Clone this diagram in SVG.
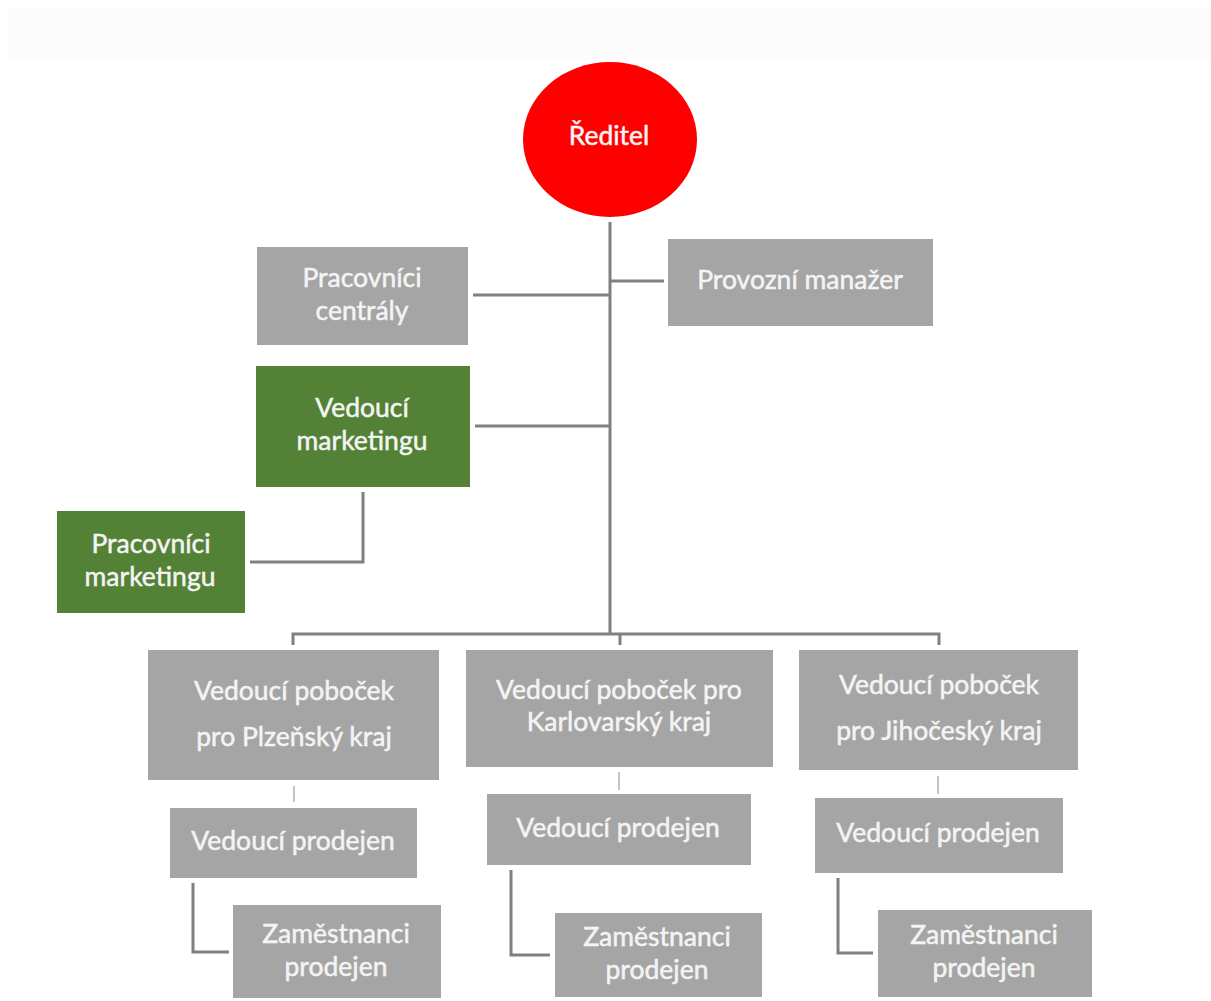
<svg xmlns="http://www.w3.org/2000/svg" width="1211" height="1001" viewBox="0 0 1211 1001">
  <style>
    .box { fill: #a5a5a5; }
    .green { fill: #538135; }
    .lbl { font-family: Lato, "Open Sans", "Liberation Sans", sans-serif; font-size: 26.5px; fill: #f4f4f4; stroke: #f4f4f4; stroke-width: 0.5; text-anchor: middle; }
    .wire { fill: none; stroke: #808080; stroke-width: 3; }
    .stub { fill: none; stroke: #c4c4c4; stroke-width: 2; }
  </style>
  <rect x="0" y="0" width="1211" height="1001" fill="#ffffff"/>
  <rect x="8" y="8" width="1203" height="52" fill="#fcfcfc"/>

  <g id="connectors">
    <path class="wire" d="M610 222 V635"/>
    <path class="wire" d="M610 281 H664"/>
    <path class="wire" d="M473 295 H610"/>
    <path class="wire" d="M475 426 H610"/>
    <path class="wire" d="M363 492 V562 H250"/>
    <path class="wire" d="M293 645 V634 H939 V645"/>
    <path class="wire" d="M620 634 V645"/>
    <path class="stub" d="M294 786 V802"/>
    <path class="stub" d="M619 772 V790"/>
    <path class="stub" d="M938 776 V794"/>
    <path class="wire" d="M193 883 V952 H229"/>
    <path class="wire" d="M511 870 V955 H550"/>
    <path class="wire" d="M838 878 V953 H873"/>
  </g>

  <g id="reditel">
    <ellipse cx="610" cy="139.5" rx="87" ry="77.5" fill="#fe0000"/>
    <text class="lbl" x="609" y="145">Ředitel</text>
  </g>

  <g id="provozni-manazer">
    <rect class="box" x="668" y="239" width="265" height="87"/>
    <text class="lbl" x="800" y="289">Provozní manažer</text>
  </g>

  <g id="pracovnici-centraly">
    <rect class="box" x="257" y="247" width="211" height="98"/>
    <text class="lbl" x="362" y="287">Pracovníci</text>
    <text class="lbl" x="362" y="320">centrály</text>
  </g>

  <g id="vedouci-marketingu">
    <rect class="green" x="256" y="366" width="214" height="121"/>
    <text class="lbl" x="362" y="417">Vedoucí</text>
    <text class="lbl" x="362" y="450">marketingu</text>
  </g>

  <g id="pracovnici-marketingu">
    <rect class="green" x="57" y="511" width="188" height="102"/>
    <text class="lbl" x="151" y="553">Pracovníci</text>
    <text class="lbl" x="150" y="586">marketingu</text>
  </g>

  <g id="vedouci-pobocek-plzen">
    <rect class="box" x="148" y="650" width="291" height="130"/>
    <text class="lbl" x="294" y="700">Vedoucí poboček</text>
    <text class="lbl" x="294" y="746">pro Plzeňský kraj</text>
  </g>

  <g id="vedouci-pobocek-karlovary">
    <rect class="box" x="466" y="650" width="307" height="117"/>
    <text class="lbl" x="619" y="699">Vedoucí poboček pro</text>
    <text class="lbl" x="619" y="731">Karlovarský kraj</text>
  </g>

  <g id="vedouci-pobocek-jihocesky">
    <rect class="box" x="799" y="650" width="279" height="120"/>
    <text class="lbl" x="939" y="694">Vedoucí poboček</text>
    <text class="lbl" x="939" y="740">pro Jihočeský kraj</text>
  </g>

  <g id="vedouci-prodejen-1">
    <rect class="box" x="170" y="808" width="247" height="70"/>
    <text class="lbl" x="293" y="850">Vedoucí prodejen</text>
  </g>

  <g id="vedouci-prodejen-2">
    <rect class="box" x="487" y="794" width="264" height="71"/>
    <text class="lbl" x="618" y="837">Vedoucí prodejen</text>
  </g>

  <g id="vedouci-prodejen-3">
    <rect class="box" x="815" y="798" width="248" height="75"/>
    <text class="lbl" x="938" y="842">Vedoucí prodejen</text>
  </g>

  <g id="zamestnanci-1">
    <rect class="box" x="233" y="905" width="208" height="93"/>
    <text class="lbl" x="336" y="943">Zaměstnanci</text>
    <text class="lbl" x="336" y="976">prodejen</text>
  </g>

  <g id="zamestnanci-2">
    <rect class="box" x="555" y="913" width="207" height="84"/>
    <text class="lbl" x="657" y="946">Zaměstnanci</text>
    <text class="lbl" x="657" y="979">prodejen</text>
  </g>

  <g id="zamestnanci-3">
    <rect class="box" x="878" y="910" width="214" height="87"/>
    <text class="lbl" x="984" y="944">Zaměstnanci</text>
    <text class="lbl" x="984" y="977">prodejen</text>
  </g>
</svg>
